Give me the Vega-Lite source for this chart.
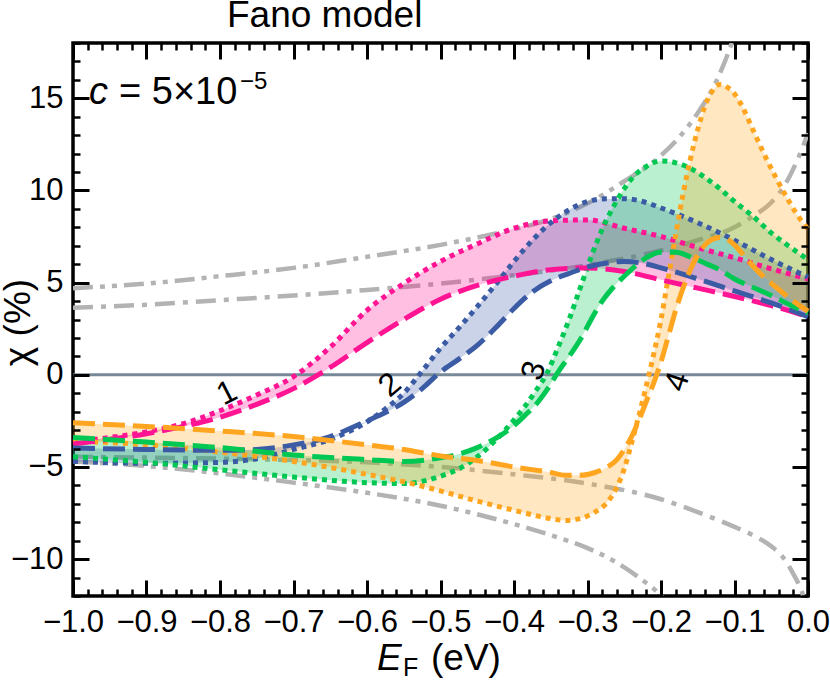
{
"$schema":"https://vega.github.io/schema/vega-lite/v6.json",
"width":735,"height":553,
"autosize":"none",
"padding":{"left":73,"top":43,"right":22,"bottom":84},
"background":"white",
"config":{
"view":{"stroke":"black","strokeWidth":3.5},
"axis":{"domain":false,"grid":false,"labels":false,"tickColor":"black","labelFont":"Liberation Sans","labelColor":"black","titleFont":"Liberation Sans","titleColor":"black","labelFlush":false,"labelOverlap":false,"labelBound":false},
"text":{"font":"Liberation Sans","color":"black"}
},
"datasets":{
"gray":[
{"g":"A","st":"dd","x":-1,"y":4.7},{"g":"A","st":"dd","x":-0.9,"y":4.95},{"g":"A","st":"dd","x":-0.8,"y":5.35},{"g":"A","st":"dd","x":-0.7,"y":5.8},{"g":"A","st":"dd","x":-0.6,"y":6.4},{"g":"A","st":"dd","x":-0.5,"y":7.05},{"g":"A","st":"dd","x":-0.4,"y":7.9},{"g":"A","st":"dd","x":-0.35,"y":8.45},{"g":"A","st":"dd","x":-0.3,"y":9.3},{"g":"A","st":"dd","x":-0.25,"y":10.5},{"g":"A","st":"dd","x":-0.2,"y":11.9},{"g":"A","st":"dd","x":-0.175,"y":12.9},{"g":"A","st":"dd","x":-0.15,"y":14.2},{"g":"A","st":"dd","x":-0.125,"y":15.9},{"g":"A","st":"dd","x":-0.1,"y":18.4},{"g":"A","st":"dd","x":-0.09,"y":19.6},
{"g":"B","st":"d","x":-1,"y":3.64},{"g":"B","st":"d","x":-0.9,"y":3.8},{"g":"B","st":"d","x":-0.8,"y":4.05},{"g":"B","st":"d","x":-0.7,"y":4.3},{"g":"B","st":"d","x":-0.6,"y":4.6},{"g":"B","st":"d","x":-0.5,"y":4.95},{"g":"B","st":"d","x":-0.4,"y":5.4},{"g":"B","st":"d","x":-0.3,"y":5.95},{"g":"B","st":"d","x":-0.2,"y":6.75},{"g":"B","st":"d","x":-0.15,"y":7.3},{"g":"B","st":"d","x":-0.1,"y":8.0},{"g":"B","st":"d","x":-0.075,"y":8.6},{"g":"B","st":"d","x":-0.05,"y":9.35},{"g":"B","st":"d","x":-0.03,"y":10.4},{"g":"B","st":"d","x":-0.015,"y":11.6},{"g":"B","st":"d","x":0,"y":13.1},
{"g":"C","st":"d","x":-1,"y":-4.45},{"g":"C","st":"d","x":-0.8,"y":-4.55},{"g":"C","st":"d","x":-0.6,"y":-4.75},{"g":"C","st":"d","x":-0.5,"y":-5.0},{"g":"C","st":"d","x":-0.4,"y":-5.4},{"g":"C","st":"d","x":-0.3,"y":-5.9},{"g":"C","st":"d","x":-0.2,"y":-6.75},{"g":"C","st":"d","x":-0.15,"y":-7.45},{"g":"C","st":"d","x":-0.1,"y":-8.25},{"g":"C","st":"d","x":-0.075,"y":-8.7},{"g":"C","st":"d","x":-0.05,"y":-9.3},{"g":"C","st":"d","x":-0.035,"y":-9.85},{"g":"C","st":"d","x":-0.02,"y":-10.8},{"g":"C","st":"d","x":-0.01,"y":-11.6},{"g":"C","st":"d","x":-0.003,"y":-12.4},
{"g":"D","st":"dd","x":-1,"y":-4.7},{"g":"D","st":"dd","x":-0.9,"y":-4.95},{"g":"D","st":"dd","x":-0.8,"y":-5.35},{"g":"D","st":"dd","x":-0.7,"y":-5.85},{"g":"D","st":"dd","x":-0.6,"y":-6.4},{"g":"D","st":"dd","x":-0.5,"y":-7.1},{"g":"D","st":"dd","x":-0.4,"y":-8.1},{"g":"D","st":"dd","x":-0.35,"y":-8.7},{"g":"D","st":"dd","x":-0.3,"y":-9.4},{"g":"D","st":"dd","x":-0.26,"y":-10.2},{"g":"D","st":"dd","x":-0.23,"y":-11.0},{"g":"D","st":"dd","x":-0.2,"y":-12.0},{"g":"D","st":"dd","x":-0.19,"y":-12.5}
],
"bands":[
{"s":"1","x":-1,"dot":-3.65,"dash":-3.75},{"s":"1","x":-0.95,"dot":-3.4,"dash":-3.5},{"s":"1","x":-0.9,"dot":-3.1,"dash":-3.2},{"s":"1","x":-0.85,"dot":-2.65,"dash":-2.8},{"s":"1","x":-0.8,"dot":-1.95,"dash":-2.3},{"s":"1","x":-0.75,"dot":-1.1,"dash":-1.6},{"s":"1","x":-0.7,"dot":-0.1,"dash":-0.75},{"s":"1","x":-0.65,"dot":1.5,"dash":0.4},{"s":"1","x":-0.6,"dot":3.5,"dash":1.75},{"s":"1","x":-0.55,"dot":4.95,"dash":3.0},{"s":"1","x":-0.5,"dot":6.15,"dash":4.1},{"s":"1","x":-0.45,"dot":7.1,"dash":4.85},{"s":"1","x":-0.4,"dot":7.95,"dash":5.35},{"s":"1","x":-0.35,"dot":8.35,"dash":5.7},{"s":"1","x":-0.3,"dot":8.4,"dash":5.8},{"s":"1","x":-0.25,"dot":7.95,"dash":5.6},{"s":"1","x":-0.2,"dot":7.5,"dash":5.15},{"s":"1","x":-0.15,"dot":6.9,"dash":4.7},{"s":"1","x":-0.1,"dot":6.35,"dash":4.25},{"s":"1","x":-0.05,"dot":5.75,"dash":3.75},{"s":"1","x":0,"dot":5.2,"dash":3.15},
{"s":"2","x":-1,"dot":-4.7,"dash":-3.97},{"s":"2","x":-0.9,"dot":-4.8,"dash":-4.05},{"s":"2","x":-0.8,"dot":-4.75,"dash":-4.1},{"s":"2","x":-0.75,"dot":-4.55,"dash":-4.05},{"s":"2","x":-0.7,"dot":-4.05,"dash":-3.8},{"s":"2","x":-0.65,"dot":-3.5,"dash":-3.35},{"s":"2","x":-0.6,"dot":-2.55,"dash":-2.5},{"s":"2","x":-0.575,"dot":-1.85,"dash":-2.05},{"s":"2","x":-0.55,"dot":-1.0,"dash":-1.5},{"s":"2","x":-0.525,"dot":0.2,"dash":-0.75},{"s":"2","x":-0.5,"dot":1.45,"dash":0.15},{"s":"2","x":-0.475,"dot":2.55,"dash":0.85},{"s":"2","x":-0.45,"dot":3.7,"dash":1.6},{"s":"2","x":-0.425,"dot":4.9,"dash":2.55},{"s":"2","x":-0.4,"dot":6.15,"dash":3.6},{"s":"2","x":-0.375,"dot":7.3,"dash":4.5},{"s":"2","x":-0.35,"dot":8.25,"dash":5.1},{"s":"2","x":-0.325,"dot":8.95,"dash":5.5},{"s":"2","x":-0.3,"dot":9.4,"dash":5.85},{"s":"2","x":-0.275,"dot":9.55,"dash":6.05},{"s":"2","x":-0.25,"dot":9.55,"dash":6.15},{"s":"2","x":-0.225,"dot":9.4,"dash":6.05},{"s":"2","x":-0.2,"dot":9.05,"dash":5.8},{"s":"2","x":-0.15,"dot":8.25,"dash":5.2},{"s":"2","x":-0.1,"dot":7.3,"dash":4.55},{"s":"2","x":-0.05,"dot":6.25,"dash":3.9},{"s":"2","x":0,"dot":5.3,"dash":3.15},
{"s":"3","x":-1,"dot":-4.45,"dash":-3.4},{"s":"3","x":-0.9,"dot":-4.75,"dash":-3.65},{"s":"3","x":-0.8,"dot":-5.15,"dash":-3.95},{"s":"3","x":-0.7,"dot":-5.55,"dash":-4.35},{"s":"3","x":-0.6,"dot":-5.85,"dash":-4.6},{"s":"3","x":-0.55,"dot":-5.9,"dash":-4.7},{"s":"3","x":-0.5,"dot":-5.5,"dash":-4.5},{"s":"3","x":-0.475,"dot":-5.1,"dash":-4.3},{"s":"3","x":-0.45,"dot":-4.45,"dash":-3.95},{"s":"3","x":-0.425,"dot":-3.55,"dash":-3.45},{"s":"3","x":-0.4,"dot":-2.45,"dash":-2.75},{"s":"3","x":-0.385,"dot":-1.7,"dash":-2.2},{"s":"3","x":-0.37,"dot":-0.85,"dash":-1.6},{"s":"3","x":-0.355,"dot":0.1,"dash":-0.8},{"s":"3","x":-0.34,"dot":1.5,"dash":0.15},{"s":"3","x":-0.325,"dot":3.0,"dash":1.0},{"s":"3","x":-0.31,"dot":4.7,"dash":1.9},{"s":"3","x":-0.295,"dot":6.4,"dash":3.0},{"s":"3","x":-0.28,"dot":7.9,"dash":4.0},{"s":"3","x":-0.265,"dot":9.1,"dash":4.75},{"s":"3","x":-0.25,"dot":10.1,"dash":5.35},{"s":"3","x":-0.235,"dot":10.85,"dash":5.9},{"s":"3","x":-0.22,"dot":11.3,"dash":6.35},{"s":"3","x":-0.2,"dot":11.6,"dash":6.65},{"s":"3","x":-0.18,"dot":11.5,"dash":6.65},{"s":"3","x":-0.16,"dot":11.2,"dash":6.4},{"s":"3","x":-0.14,"dot":10.7,"dash":6.05},{"s":"3","x":-0.12,"dot":10.1,"dash":5.7},{"s":"3","x":-0.1,"dot":9.4,"dash":5.2},{"s":"3","x":-0.075,"dot":8.6,"dash":4.75},{"s":"3","x":-0.05,"dot":7.7,"dash":4.3},{"s":"3","x":-0.025,"dot":6.95,"dash":3.8},{"s":"3","x":0,"dot":6.25,"dash":3.35},
{"s":"4","x":-1,"dot":-3.6,"dash":-2.6},{"s":"4","x":-0.9,"dot":-3.8,"dash":-2.8},{"s":"4","x":-0.8,"dot":-4.2,"dash":-3.05},{"s":"4","x":-0.7,"dot":-4.7,"dash":-3.35},{"s":"4","x":-0.6,"dot":-5.4,"dash":-3.8},{"s":"4","x":-0.55,"dot":-5.8,"dash":-4.05},{"s":"4","x":-0.5,"dot":-6.3,"dash":-4.4},{"s":"4","x":-0.45,"dot":-6.85,"dash":-4.65},{"s":"4","x":-0.4,"dot":-7.35,"dash":-5.0},{"s":"4","x":-0.35,"dot":-7.8,"dash":-5.3},{"s":"4","x":-0.33,"dot":-7.9,"dash":-5.45},{"s":"4","x":-0.31,"dot":-7.8,"dash":-5.45},{"s":"4","x":-0.29,"dot":-7.45,"dash":-5.3},{"s":"4","x":-0.275,"dot":-7.0,"dash":-5.05},{"s":"4","x":-0.26,"dot":-6.1,"dash":-4.6},{"s":"4","x":-0.25,"dot":-5.1,"dash":-4.05},{"s":"4","x":-0.24,"dot":-3.7,"dash":-3.35},{"s":"4","x":-0.23,"dot":-2.2,"dash":-2.45},{"s":"4","x":-0.22,"dot":-0.6,"dash":-1.45},{"s":"4","x":-0.21,"dot":1.1,"dash":-0.45},{"s":"4","x":-0.2,"dot":3.0,"dash":0.7},{"s":"4","x":-0.19,"dot":5.3,"dash":2.1},{"s":"4","x":-0.18,"dot":7.6,"dash":3.5},{"s":"4","x":-0.17,"dot":9.8,"dash":4.7},{"s":"4","x":-0.16,"dot":11.7,"dash":5.7},{"s":"4","x":-0.15,"dot":13.3,"dash":6.5},{"s":"4","x":-0.14,"dot":14.6,"dash":7.05},{"s":"4","x":-0.13,"dot":15.4,"dash":7.35},{"s":"4","x":-0.12,"dot":15.75,"dash":7.45},{"s":"4","x":-0.11,"dot":15.6,"dash":7.35},{"s":"4","x":-0.1,"dot":15.25,"dash":7.05},{"s":"4","x":-0.09,"dot":14.6,"dash":6.6},{"s":"4","x":-0.075,"dot":13.3,"dash":5.9},{"s":"4","x":-0.06,"dot":12.0,"dash":5.3},{"s":"4","x":-0.045,"dot":10.8,"dash":4.8},{"s":"4","x":-0.03,"dot":9.7,"dash":4.3},{"s":"4","x":-0.015,"dot":8.7,"dash":3.85},{"s":"4","x":0,"dot":7.9,"dash":3.45}
]
},
"layer":[
{"data":{"name":"gray"},
 "mark":{"type":"line","strokeWidth":4.5,"color":"#b3b3b3","clip":true,"interpolate":"monotone"},
 "encoding":{
  "x":{"field":"x","type":"quantitative","scale":{"domain":[-1,0],"nice":false,"zero":false},"axis":{"orient":"top","title":null,"zindex":1,"tickSize":-7,"tickWidth":2.5,"values":[-1,-0.98,-0.96,-0.94,-0.92,-0.9,-0.88,-0.86,-0.84,-0.82,-0.8,-0.78,-0.76,-0.74,-0.72,-0.7,-0.68,-0.66,-0.64,-0.62,-0.6,-0.58,-0.56,-0.54,-0.52,-0.5,-0.48,-0.46,-0.44,-0.42,-0.4,-0.38,-0.36,-0.34,-0.32,-0.3,-0.28,-0.26,-0.24,-0.22,-0.2,-0.18,-0.16,-0.14,-0.12,-0.1,-0.08,-0.06,-0.04,-0.02,0]}},
  "y":{"field":"y","type":"quantitative","scale":{"domain":[-12,18],"nice":false,"zero":false},"axis":{"orient":"right","title":null,"zindex":1,"tickSize":-7,"tickWidth":2.5,"values":[-12,-11,-10,-9,-8,-7,-6,-5,-4,-3,-2,-1,0,1,2,3,4,5,6,7,8,9,10,11,12,13,14,15,16,17,18]}},
  "detail":{"field":"g","type":"nominal"},
  "strokeDash":{"field":"st","type":"nominal","scale":{"domain":["dd","d"],"range":[[20,7,5,7,5,7],[20,8,5,8]]},"legend":null}
 }},
{"data":{"name":"bands"},
 "mark":{"type":"area","interpolate":"monotone","fillOpacity":0.27},
 "encoding":{
  "x":{"field":"x","type":"quantitative","scale":{"domain":[-1,0],"nice":false,"zero":false},"axis":{"orient":"bottom","title":null,"ticks":false,"labels":true,"labelFontSize":31,"labelPadding":11.5,"format":".1f","values":[-1,-0.9,-0.8,-0.7,-0.6,-0.5,-0.4,-0.3,-0.2,-0.1,0]}},
  "y":{"field":"dot","type":"quantitative","stack":null,"scale":{"domain":[-12,18],"nice":false,"zero":false},"axis":{"orient":"left","ticks":false,"labels":true,"labelFontSize":31,"labelPadding":10,"values":[-10,-5,0,5,10,15],"title":"χ (%)","titleFontSize":37,"titleFontWeight":"normal","titleAngle":-90,"titleX":-44,"titleY":279,"titleAlign":"center","titleBaseline":"alphabetic"}},
  "y2":{"field":"dash"},
  "color":{"field":"s","type":"nominal","scale":{"domain":["1","2","3","4"],"range":["#ff1493","#3b5ba5","#00c853","#ffa51f"]},"legend":null}
 }},
{"data":{"values":[{}]},
 "mark":{"type":"rule","color":"#778899","strokeWidth":3},
 "encoding":{"y":{"datum":0,"type":"quantitative","scale":{"domain":[-12,18],"nice":false,"zero":false},"axis":null}}},
{"data":{"name":"bands"},
 "mark":{"type":"line","interpolate":"monotone","strokeWidth":5,"strokeDash":[5,5]},
 "encoding":{
  "x":{"field":"x","type":"quantitative","scale":{"domain":[-1,0],"nice":false,"zero":false},"axis":{"orient":"bottom","title":null,"zindex":1,"tickSize":-16,"tickWidth":3,"values":[-1,-0.9,-0.8,-0.7,-0.6,-0.5,-0.4,-0.3,-0.2,-0.1,0]}},
  "y":{"field":"dot","type":"quantitative","scale":{"domain":[-12,18],"nice":false,"zero":false},"axis":{"orient":"left","title":null,"zindex":1,"tickSize":-16,"tickWidth":3,"values":[-10,-5,0,5,10,15]}},
  "color":{"field":"s","type":"nominal","scale":{"domain":["1","2","3","4"],"range":["#ff1493","#3b5ba5","#00c853","#ffa51f"]},"legend":null}
 }},
{"data":{"name":"bands"},
 "mark":{"type":"line","interpolate":"monotone","strokeWidth":5,"strokeDash":[22,8]},
 "encoding":{
  "x":{"field":"x","type":"quantitative","scale":{"domain":[-1,0],"nice":false,"zero":false},"axis":{"orient":"bottom","title":null,"zindex":1,"tickSize":-7,"tickWidth":2.5,"values":[-1,-0.98,-0.96,-0.94,-0.92,-0.9,-0.88,-0.86,-0.84,-0.82,-0.8,-0.78,-0.76,-0.74,-0.72,-0.7,-0.68,-0.66,-0.64,-0.62,-0.6,-0.58,-0.56,-0.54,-0.52,-0.5,-0.48,-0.46,-0.44,-0.42,-0.4,-0.38,-0.36,-0.34,-0.32,-0.3,-0.28,-0.26,-0.24,-0.22,-0.2,-0.18,-0.16,-0.14,-0.12,-0.1,-0.08,-0.06,-0.04,-0.02,0]}},
  "y":{"field":"dash","type":"quantitative","scale":{"domain":[-12,18],"nice":false,"zero":false},"axis":{"orient":"left","title":null,"zindex":1,"tickSize":-7,"tickWidth":2.5,"values":[-12,-11,-10,-9,-8,-7,-6,-5,-4,-3,-2,-1,0,1,2,3,4,5,6,7,8,9,10,11,12,13,14,15,16,17,18]}},
  "color":{"field":"s","type":"nominal","scale":{"domain":["1","2","3","4"],"range":["#ff1493","#3b5ba5","#00c853","#ffa51f"]},"legend":null}
 }},
{"data":{"values":[{}]},
 "mark":{"type":"text","text":"1","fontSize":32,"angle":-27,"align":"center","baseline":"middle"},
 "encoding":{
  "x":{"datum":-0.7905,"type":"quantitative","scale":{"domain":[-1,0],"nice":false,"zero":false},"axis":{"orient":"top","title":null,"zindex":1,"tickSize":-16,"tickWidth":3,"values":[-1,-0.9,-0.8,-0.7,-0.6,-0.5,-0.4,-0.3,-0.2,-0.1,0]}},
  "y":{"datum":-0.98,"type":"quantitative","scale":{"domain":[-12,18],"nice":false,"zero":false},"axis":{"orient":"right","title":null,"zindex":1,"tickSize":-16,"tickWidth":3,"values":[-10,-5,0,5,10,15]}}
 }},
{"data":{"values":[{}]},
 "mark":{"type":"text","text":"2","fontSize":32,"angle":-40,"align":"center","baseline":"middle"},
 "encoding":{"x":{"datum":-0.569,"type":"quantitative","axis":null},"y":{"datum":-0.54,"type":"quantitative","axis":null}}},
{"data":{"values":[{}]},
 "mark":{"type":"text","text":"3","fontSize":32,"angle":-72,"align":"center","baseline":"middle"},
 "encoding":{"x":{"datum":-0.373,"type":"quantitative","axis":null},"y":{"datum":0.22,"type":"quantitative","axis":null}}},
{"data":{"values":[{}]},
 "mark":{"type":"text","text":"4","fontSize":32,"angle":-72,"align":"center","baseline":"middle"},
 "encoding":{"x":{"datum":-0.178,"type":"quantitative","axis":null},"y":{"datum":-0.38,"type":"quantitative","axis":null}}},
{"data":{"values":[{}]},
 "mark":{"type":"text","text":"Fano model","fontSize":37,"align":"left","baseline":"alphabetic"},
 "encoding":{"x":{"datum":-0.7905,"type":"quantitative","axis":null},"y":{"datum":18.86,"type":"quantitative","axis":null}}},
{"data":{"values":[{}]},
 "mark":{"type":"text","text":"c","fontSize":38,"fontStyle":"italic","align":"left","baseline":"alphabetic"},
 "encoding":{"x":{"datum":-0.9782,"type":"quantitative","axis":null},"y":{"datum":14.67,"type":"quantitative","axis":null}}},
{"data":{"values":[{}]},
 "mark":{"type":"text","text":"= 5×10","fontSize":38,"align":"left","baseline":"alphabetic"},
 "encoding":{"x":{"datum":-0.9374,"type":"quantitative","axis":null},"y":{"datum":14.67,"type":"quantitative","axis":null}}},
{"data":{"values":[{}]},
 "mark":{"type":"text","text":"−5","fontSize":24,"align":"left","baseline":"alphabetic"},
 "encoding":{"x":{"datum":-0.7728,"type":"quantitative","axis":null},"y":{"datum":15.49,"type":"quantitative","axis":null}}},
{"data":{"values":[{}]},
 "mark":{"type":"text","text":"E","fontSize":37,"fontStyle":"italic","align":"left","baseline":"alphabetic"},
 "encoding":{"x":{"datum":-0.5864,"type":"quantitative","axis":null},"y":{"datum":-16.0,"type":"quantitative","axis":null}}},
{"data":{"values":[{}]},
 "mark":{"type":"text","text":"F","fontSize":25,"align":"left","baseline":"alphabetic"},
 "encoding":{"x":{"datum":-0.551,"type":"quantitative","axis":null},"y":{"datum":-16.36,"type":"quantitative","axis":null}}},
{"data":{"values":[{}]},
 "mark":{"type":"text","text":"(eV)","fontSize":37,"align":"left","baseline":"alphabetic"},
 "encoding":{"x":{"datum":-0.5129,"type":"quantitative","axis":null},"y":{"datum":-16.0,"type":"quantitative","axis":null}}}
],
"resolve":{"axis":{"x":"independent","y":"independent"}}
}
